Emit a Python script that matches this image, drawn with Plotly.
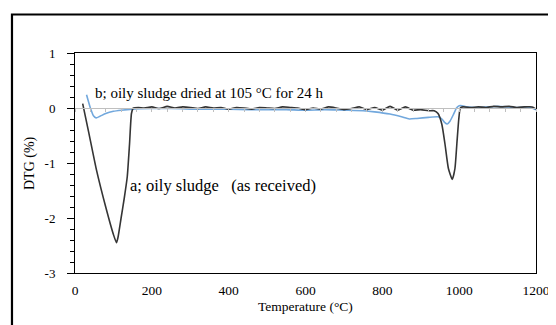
import plotly.graph_objects as go

# Sample a: oily sludge (as received)
temp_a = [20, 35, 56, 80, 100, 108, 112, 120, 128, 136, 142, 147, 152, 165, 180, 200, 220, 240, 260,
          280, 300, 320, 340, 360, 380, 400, 420, 440, 460, 480, 500, 520, 540, 560, 580, 600, 620,
          640, 660, 680, 700, 720, 740, 760, 780, 800, 820, 840, 860, 880, 900, 920, 935, 945, 955,
          963, 972, 982, 989, 994, 999, 1003, 1010, 1030, 1050, 1070, 1090, 1110, 1130, 1150, 1170,
          1190, 1200]
dtg_a = [0.08, -0.42, -1.13, -1.8, -2.3, -2.45, -2.35, -2.0, -1.65, -1.25, -0.65, -0.1, 0.0, 0.01, 0.0,
         0.02, -0.01, 0.03, 0.0, 0.02, 0.01, -0.01, 0.02, 0.0, 0.01, -0.02, 0.01, 0.0, -0.02, 0.01,
         0.0, -0.01, 0.02, 0.01, 0.0, -0.03, 0.0, -0.02, 0.02, 0.0, -0.03, -0.01, 0.02, -0.03, 0.01,
         -0.04, 0.03, -0.04, 0.02, -0.04, -0.03, -0.05, -0.05, -0.1, -0.3, -0.65, -1.1, -1.3, -1.1,
         -0.65, -0.2, 0.0, 0.02, 0.01, 0.02, 0.01, 0.03, 0.02, 0.03, 0.01, 0.02, 0.02, -0.02]

# Sample b: oily sludge dried at 105 °C for 24 h
temp_b = [30, 40, 48, 55, 65, 80, 100, 120, 150, 200, 250, 300, 350, 400, 450, 500, 550, 600, 650,
          700, 750, 780, 820, 850, 870, 890, 920, 945, 955, 962, 969, 976, 985, 993, 1000, 1008,
          1020, 1050, 1080, 1100, 1150, 1180, 1200]
dtg_b = [0.24, 0.0, -0.14, -0.18, -0.15, -0.1, -0.06, -0.04, -0.02, -0.01, -0.01, -0.02, -0.02,
         -0.02, -0.03, -0.03, -0.03, -0.04, -0.03, -0.04, -0.05, -0.07, -0.11, -0.16, -0.2, -0.19,
         -0.17, -0.16, -0.2, -0.26, -0.29, -0.24, -0.12, 0.0, 0.04, 0.04, 0.02, 0.01, 0.02, 0.03,
         0.01, 0.02, -0.03]

x_ticks = [0, 200, 400, 600, 800, 1000, 1200]
y_ticks = [-3, -2, -1, 0, 1]
y_tick_text = ["-3", "-2", "-1", "0", "1"]

label_a = "a; oily sludge  (as received)"
label_b = "b; oily sludge dried at 105 °C for 24 h"
x_title = "Temperature (°C)"
y_title = "DTG (%)"

FONT = "Liberation Serif, Times New Roman, serif"

fig = go.Figure()
fig.add_trace(go.Scatter(x=temp_b, y=dtg_b, mode="lines",
                         line=dict(color="#72a8dd", width=1.6, shape="spline", smoothing=0.5),
                         showlegend=False, hoverinfo="skip"))
fig.add_trace(go.Scatter(x=temp_a, y=dtg_a, mode="lines",
                         line=dict(color="#353535", width=1.6, shape="spline", smoothing=0.5),
                         showlegend=False, hoverinfo="skip"))
# invisible trace to activate the zero-crossing axis
fig.add_trace(go.Scatter(x=[0, 1200], y=[0, 0], xaxis="x2", mode="lines",
                         line=dict(width=0), showlegend=False, hoverinfo="skip"))

fig.add_annotation(x=47, y=0.27, text=label_b, showarrow=False, xanchor="left", yanchor="middle",
                   font=dict(family=FONT, size=15, color="#000"))
fig.add_annotation(x=137, y=-1.4, text=label_a.replace("  ", "&nbsp;&nbsp;&nbsp;"),
                   showarrow=False, xanchor="left", yanchor="middle",
                   font=dict(family=FONT, size=16.5, color="#000"))
# axis titles
fig.add_annotation(xref="paper", yref="paper", x=0.5, y=-0.15, text=x_title, showarrow=False,
                   xanchor="center", yanchor="middle", font=dict(family=FONT, size=13.5, color="#000"))
fig.add_annotation(xref="paper", yref="paper", x=-0.0976, y=0.5, text=y_title, showarrow=False,
                   textangle=-90, xanchor="center", yanchor="middle",
                   font=dict(family=FONT, size=14, color="#000"))

# outer frame
fig.add_shape(type="rect", xref="paper", yref="paper", x0=-0.1367, x1=1.3, y0=-0.6, y1=1.175,
              line=dict(color="#000", width=2.2), layer="above")

fig.update_layout(
    width=556, height=325,
    margin=dict(l=67, r=28, t=45, b=60, autoexpand=False),
    paper_bgcolor="white", plot_bgcolor="white",
    font=dict(family=FONT, size=13, color="#000"),
    xaxis=dict(range=[0, 1200], tickvals=x_ticks, ticks="outside", ticklen=5,
               tickcolor="rgba(0,0,0,0)", showgrid=False, zeroline=False, automargin=False,
               showline=True, linecolor="#000", linewidth=1, mirror=True,
               tickfont=dict(family=FONT, size=13.5), ticklabeloverflow="allow"),
    xaxis2=dict(range=[0, 1200], overlaying="x", anchor="free", position=0.75, side="bottom",
                showline=True, linecolor="#bfbfbf", linewidth=1, showgrid=False, zeroline=False,
                tickvals=x_ticks, ticks="outside", ticklen=3, tickcolor="#bfbfbf",
                showticklabels=False, automargin=False,
                minor=dict(dtick=40, tick0=0, ticks="outside", ticklen=3, tickcolor="#bfbfbf")),
    yaxis=dict(range=[-3, 1], tickvals=y_ticks, ticktext=y_tick_text, ticks="outside", ticklen=7,
               tickcolor="#000", ticklabelstandoff=9, automargin=False,
               showgrid=False, zeroline=False, showline=True, linecolor="#000", linewidth=1,
               mirror=True, tickfont=dict(family=FONT, size=13),
               minor=dict(dtick=0.2, tick0=0, ticks="outside", ticklen=4, tickcolor="#000")),
)

fig.write_html("out.html")
